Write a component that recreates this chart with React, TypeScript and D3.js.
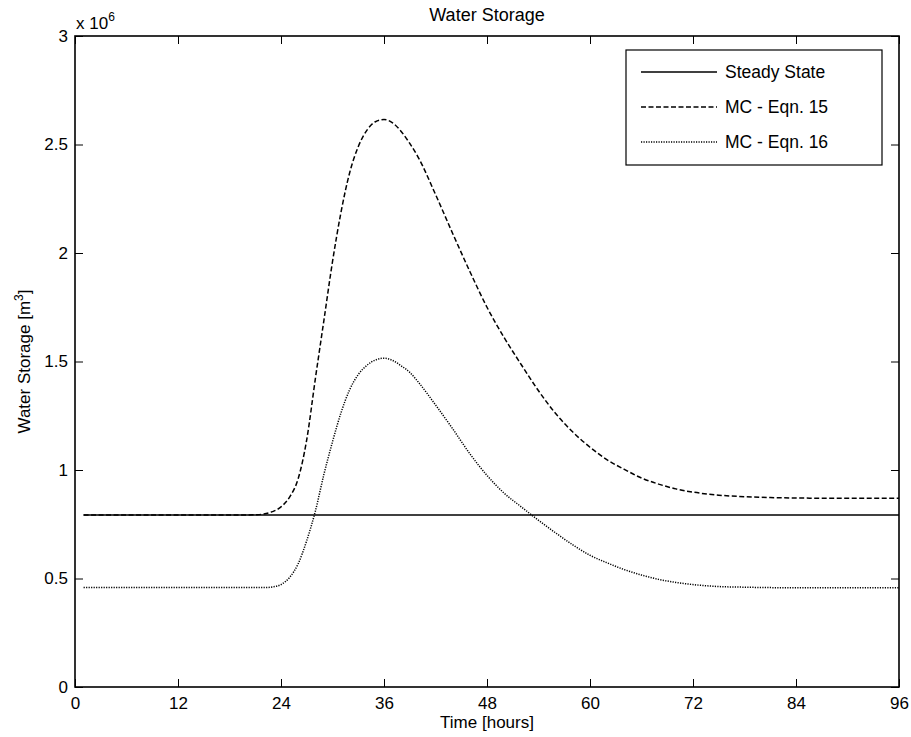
import React, { useRef, useEffect } from 'react';
import * as d3 from 'd3';

// values, storage in units of 10^6 m3
const hours = [1, 4, 8, 12, 16, 20, 21, 22, 23, 24, 25, 26, 27, 28, 29, 30, 31, 32, 33, 34, 35, 36, 37, 38, 39, 40, 42, 44, 46, 48, 50, 52, 54, 56, 58, 60, 62, 64, 66, 68, 70, 72, 75, 78, 81, 84, 88, 92, 96];
const eqn15 = [0.793, 0.793, 0.793, 0.793, 0.793, 0.793, 0.794, 0.797, 0.808, 0.830, 0.875, 0.960, 1.140, 1.420, 1.690, 1.960, 2.190, 2.370, 2.490, 2.565, 2.605, 2.615, 2.600, 2.560, 2.505, 2.440, 2.270, 2.090, 1.915, 1.750, 1.610, 1.485, 1.365, 1.260, 1.175, 1.105, 1.047, 1.003, 0.963, 0.935, 0.913, 0.898, 0.884, 0.877, 0.873, 0.871, 0.870, 0.870, 0.870];
const eqn16 = [0.458, 0.458, 0.458, 0.458, 0.458, 0.458, 0.458, 0.458, 0.461, 0.472, 0.505, 0.568, 0.675, 0.810, 0.980, 1.130, 1.265, 1.370, 1.440, 1.482, 1.507, 1.515, 1.505, 1.480, 1.450, 1.405, 1.300, 1.190, 1.075, 0.975, 0.893, 0.830, 0.768, 0.710, 0.655, 0.607, 0.572, 0.541, 0.516, 0.496, 0.482, 0.472, 0.463, 0.460, 0.458, 0.457, 0.457, 0.457, 0.457];
const steadyHours = [1, 96];
const steadyValues = [0.793, 0.793];

const xTicks = [0, 12, 24, 36, 48, 60, 72, 84, 96];
const yTicks = [0, 0.5, 1, 1.5, 2, 2.5, 3];

const legendItems = [
  { label: 'Steady State', dash: 'none' },
  { label: 'MC - Eqn. 15', dash: '5,2.5' },
  { label: 'MC - Eqn. 16', dash: '1.2,1.3' },
];

const W = 911, H = 737;
const margin = { left: 75, right: 12, top: 36, bottom: 50 };
const FONT = 'Liberation Sans, Arial, Helvetica, sans-serif';

const Chart: React.FC = () => {
  const svgRef = useRef<SVGSVGElement>(null);

  useEffect(() => {
    if (!svgRef.current) return;
    const svg = d3.select(svgRef.current);
    svg.selectAll('*').remove();

    const x = d3.scaleLinear().domain([0, 96]).range([margin.left, W - margin.right]);
    const y = d3.scaleLinear().domain([0, 3]).range([H - margin.bottom, margin.top]);
    const [x0, x1] = x.range();
    const [y0, y1] = y.range();

    svg.append('rect').attr('width', W).attr('height', H).attr('fill', '#fff');

    // axes, ticks pointing inward on all four sides
    const tickLen = 8;
    const bottom = svg.append('g').attr('transform', `translate(0,${y0})`)
      .call(d3.axisBottom(x).tickValues(xTicks).tickSizeInner(-tickLen).tickSizeOuter(0).tickPadding(10).tickFormat(d3.format('d')));
    const top = svg.append('g').attr('transform', `translate(0,${y1})`)
      .call(d3.axisTop(x).tickValues(xTicks).tickSizeInner(-tickLen).tickSizeOuter(0).tickFormat(() => ''));
    const left = svg.append('g').attr('transform', `translate(${x0},0)`)
      .call(d3.axisLeft(y).tickValues(yTicks).tickSizeInner(-tickLen).tickSizeOuter(0).tickPadding(7).tickFormat(d => String(d)));
    const right = svg.append('g').attr('transform', `translate(${x1},0)`)
      .call(d3.axisRight(y).tickValues(yTicks).tickSizeInner(-tickLen).tickSizeOuter(0).tickFormat(() => ''));

    [bottom, top, left, right].forEach(g => {
      g.select('.domain').remove();
      g.selectAll('line').attr('stroke', '#000').attr('stroke-width', 1);
      g.selectAll('text').attr('font-family', FONT).attr('font-size', 17).attr('fill', '#000');
    });

    // series
    const line = d3.line<[number, number]>()
      .x(d => x(d[0]))
      .y(d => y(d[1]))
      .curve(d3.curveMonotoneX);

    const series = [
      { pts: steadyHours.map((h, i) => [h, steadyValues[i]] as [number, number]), dash: 'none' },
      { pts: hours.map((h, i) => [h, eqn15[i]] as [number, number]), dash: '5,2.5' },
      { pts: hours.map((h, i) => [h, eqn16[i]] as [number, number]), dash: '1.2,1.3' },
    ];

    svg.append('g').selectAll('path')
      .data(series)
      .join('path')
      .attr('d', d => line(d.pts))
      .attr('fill', 'none')
      .attr('stroke', '#000')
      .attr('stroke-width', 1.5)
      .attr('stroke-dasharray', d => d.dash);

    // frame
    svg.append('rect')
      .attr('x', x0).attr('y', y1)
      .attr('width', x1 - x0).attr('height', y0 - y1)
      .attr('fill', 'none').attr('stroke', '#000').attr('stroke-width', 1.6);

    // titles
    svg.append('text')
      .attr('x', (x0 + x1) / 2).attr('y', 21)
      .attr('text-anchor', 'middle')
      .attr('font-family', FONT).attr('font-size', 18)
      .text('Water Storage');

    svg.append('text')
      .attr('x', (x0 + x1) / 2).attr('y', 728)
      .attr('text-anchor', 'middle')
      .attr('font-family', FONT).attr('font-size', 17)
      .text('Time [hours]');

    const yl = svg.append('text')
      .attr('transform', `translate(30,${(y0 + y1) / 2}) rotate(-90)`)
      .attr('text-anchor', 'middle')
      .attr('font-family', FONT).attr('font-size', 17);
    yl.append('tspan').text('Water Storage [m');
    yl.append('tspan').attr('font-size', 12).attr('dy', -7).text('3');
    yl.append('tspan').attr('dy', 7).text(']');

    // exponent label
    const ex = svg.append('text')
      .attr('x', 76).attr('y', 29)
      .attr('font-family', FONT).attr('font-size', 17);
    ex.append('tspan').text('x 10');
    ex.append('tspan').attr('font-size', 12).attr('dy', -8).text('6');

    // legend
    const lg = svg.append('g');
    lg.append('rect')
      .attr('x', 626).attr('y', 50).attr('width', 256).attr('height', 115)
      .attr('fill', '#fff').attr('stroke', '#000').attr('stroke-width', 1.2);
    const rows = lg.selectAll('g.item')
      .data(legendItems)
      .join('g')
      .attr('class', 'item')
      .attr('transform', (d, i) => `translate(0,${72 + i * 35})`);
    rows.append('line')
      .attr('x1', 641).attr('x2', 717)
      .attr('stroke', '#000').attr('stroke-width', 1.5)
      .attr('stroke-dasharray', d => d.dash);
    rows.append('text')
      .attr('x', 725).attr('dy', '0.35em')
      .attr('font-family', FONT).attr('font-size', 17.5)
      .text(d => d.label);
  }, []);

  return <svg ref={svgRef} width={W} height={H} style={{ position: 'absolute', left: 0, top: 0, display: 'block' }} />;
};

export default function App() {
  return <Chart />;
}
